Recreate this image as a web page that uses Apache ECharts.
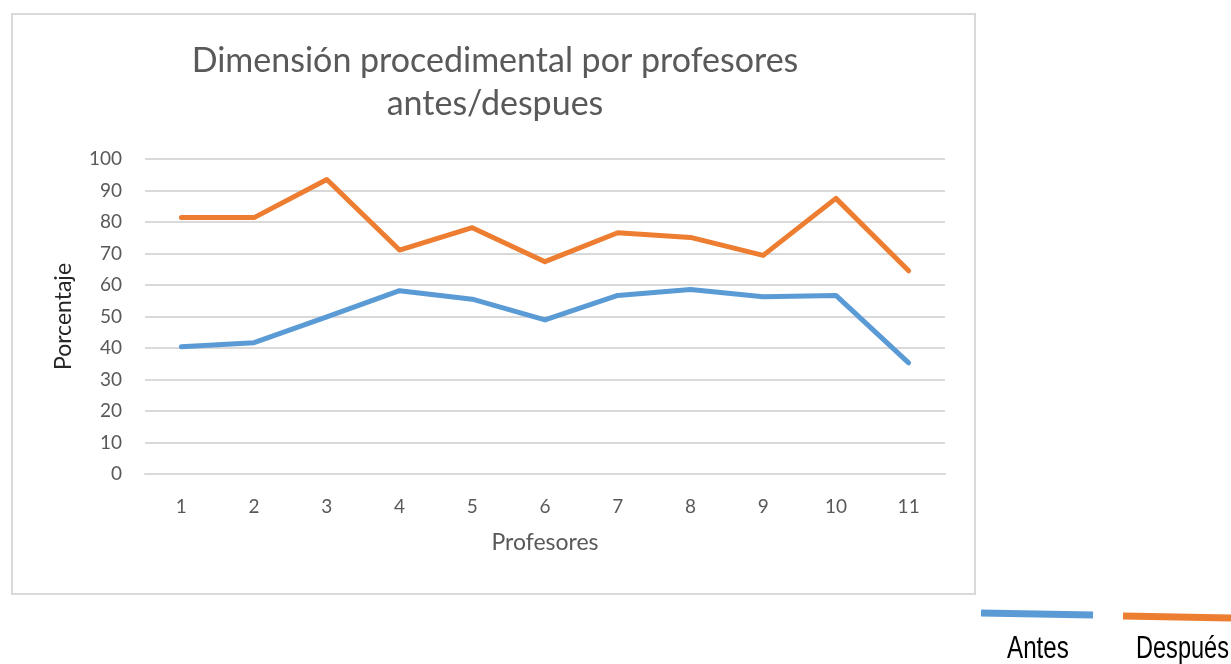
<!DOCTYPE html>
<html>
<head>
<meta charset="utf-8">
<script src="https://cdn.jsdelivr.net/npm/echarts@6/dist/echarts.min.js"></script>
<style>
  html, body { margin: 0; padding: 0; background: #fff; }
</style>
</head>
<body>
<div id="chart" style="width: 1231px; height: 664px;"></div>
<script>
// datos
const profesores = ['1', '2', '3', '4', '5', '6', '7', '8', '9', '10', '11'];
const antes = [40.4, 41.7, 49.9, 58.2, 55.5, 48.9, 56.7, 58.6, 56.3, 56.7, 35.3];
const despues = [81.4, 81.4, 93.5, 71.1, 78.2, 67.4, 76.6, 75.1, 69.4, 87.5, 64.5];
const yTicks = [0, 10, 20, 30, 40, 50, 60, 70, 80, 90, 100];

const myChart = echarts.init(document.getElementById('chart'), null, { renderer: 'canvas' });

const fontUi = 'Lato, "Open Sans", sans-serif';
const fontLeyenda = '"Liberation Sans", Arial, sans-serif';
const azul = '#5b9bd5';
const naranja = '#ed7d31';

const option = {
  backgroundColor: '#ffffff',
  animation: false,
  title: {
    text: 'Dimensión procedimental por profesores\nantes/despues',
    left: 490,
    textAlign: 'center',
    top: 35,
    textStyle: {
      color: '#595959',
      fontFamily: fontUi,
      fontWeight: 'normal',
      fontSize: 34,
      lineHeight: 43
    }
  },
  grid: {
    left: 145,
    right: 286,
    top: 159,
    bottom: 190
  },
  xAxis: {
    type: 'category',
    data: profesores,
    boundaryGap: true,
    name: 'Profesores',
    nameLocation: 'middle',
    nameGap: 57,
    nameTextStyle: { color: '#595959', fontFamily: fontUi, fontSize: 23 },
    axisLine: { lineStyle: { color: '#d9d9d9', width: 2 } },
    axisTick: { show: false },
    axisLabel: { color: '#595959', fontFamily: fontUi, fontSize: 19, margin: 23 }
  },
  yAxis: {
    type: 'value',
    min: yTicks[0],
    max: yTicks[yTicks.length - 1],
    interval: 10,
    name: 'Porcentaje',
    nameLocation: 'middle',
    nameGap: 70,
    nameRotate: 90,
    nameTextStyle: { color: '#262626', fontFamily: fontUi, fontSize: 23 },
    axisLine: { show: false },
    axisTick: { show: false },
    axisLabel: { color: '#595959', fontFamily: fontUi, fontSize: 19, margin: 23 },
    splitLine: { lineStyle: { color: '#d9d9d9', width: 2 } }
  },
  series: [
    {
      name: 'Antes',
      type: 'line',
      data: antes,
      symbol: 'none',
      lineStyle: { color: azul, width: 5, cap: 'round', join: 'round' },
      itemStyle: { color: azul }
    },
    {
      name: 'Después',
      type: 'line',
      data: despues,
      symbol: 'none',
      lineStyle: { color: naranja, width: 5, cap: 'round', join: 'round' },
      itemStyle: { color: naranja }
    }
  ],
  graphic: [
    // marco del grafico
    {
      type: 'rect',
      shape: { x: 12, y: 14, width: 963, height: 580 },
      style: { fill: 'none', stroke: '#d9d9d9', lineWidth: 2 },
      silent: true
    },
    // leyenda fuera del marco
    {
      type: 'line',
      shape: { x1: 981, y1: 613, x2: 1093, y2: 615 },
      style: { stroke: azul, lineWidth: 7 }
    },
    {
      type: 'line',
      shape: { x1: 1123, y1: 616, x2: 1231, y2: 618 },
      style: { stroke: naranja, lineWidth: 7 }
    },
    {
      type: 'text',
      x: 1007,
      y: 634,
      scaleX: 0.78,
      style: { text: 'Antes', fill: '#000', font: '31px ' + fontLeyenda }
    },
    {
      type: 'text',
      x: 1136,
      y: 634,
      scaleX: 0.76,
      style: { text: 'Después', fill: '#000', font: '31px ' + fontLeyenda }
    }
  ]
};

myChart.setOption(option);

window.addEventListener('resize', function () {
  myChart.resize();
});
</script>
</body>
</html>
